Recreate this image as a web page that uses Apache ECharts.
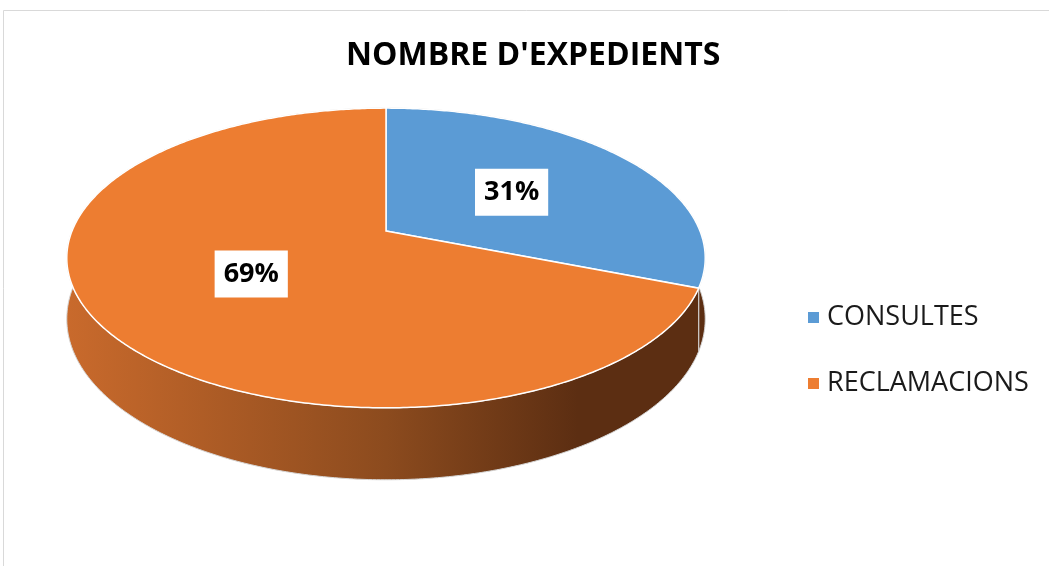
<!DOCTYPE html>
<html>
<head>
<meta charset="utf-8">
<script src="https://cdn.jsdelivr.net/npm/echarts@6/dist/echarts.min.js"></script>
<style>
    html, body { margin: 0; padding: 0; background: #fff; }
    #chart { width: 1049px; height: 566px; }
</style>
</head>
<body>
<div id="chart"></div>
<script>
var categories = ['CONSULTES', 'RECLAMACIONS'];
var values = [31, 69];
var colors = ['#5B9BD5', '#ED7D31'];

// 3d pie look: disc projected with a bit of perspective
var pie = { cx: 386, cy: 231, a: 314, b: 145, p: 0.18, h: 59 };
var sideColors = [
    ['#5c2e12', '#5c2e12', '#5c2e12'],
    ['#c96a2c', '#8c4b1e', '#5c2e12']
];

function total() {
    var t = 0;
    for (var i = 0; i < values.length; i++) t += values[i];
    return t;
}

function proj(ang, r, down) {
    var x = r * Math.sin(ang);
    var z = r * Math.cos(ang);
    var w = 1 / (1 + pie.p * z);
    return [pie.cx + pie.a * x * w, pie.cy - pie.b * z * w + down * w];
}

function arc(a0, a1, r, down) {
    var pts = [];
    var n = Math.max(2, Math.ceil((a1 - a0) / 0.01));
    for (var k = 0; k <= n; k++) {
        pts.push(proj(a0 + (a1 - a0) * k / n, r, down));
    }
    return pts;
}

function renderSlice(params, api) {
    var i = params.seriesIndex;
    var t = total();
    var before = 0;
    for (var j = 0; j < i; j++) before += values[j];
    var v = api.value(0);
    var a0 = before / t * Math.PI * 2;
    var a1 = (before + v) / t * Math.PI * 2;

    var topPts = [[pie.cx, pie.cy]].concat(arc(a0, a1, 1, 0));
    var sidePts = arc(a0, a1, 1, 0).concat(arc(a0, a1, 1, pie.h).reverse());

    var sc = sideColors[i];
    var mid = (a0 + a1) / 2;
    var lp = proj(mid, 0.5, 0);

    return {
        type: 'group',
        children: [{
            type: 'polygon',
            z2: 1,
            shape: { points: sidePts },
            style: {
                fill: new echarts.graphic.LinearGradient(pie.cx - 320, 0, pie.cx + 320, 0, [
                    { offset: 0, color: sc[0] },
                    { offset: 0.5, color: sc[1] },
                    { offset: 0.8, color: sc[2] },
                    { offset: 1, color: sc[2] }
                ], true),
                stroke: '#d6d6d6',
                lineWidth: 1
            }
        }, {
            type: 'polygon',
            z2: 10,
            shape: { points: topPts },
            style: { fill: colors[i], stroke: '#ffffff', lineWidth: 1.5 }
        }, {
            type: 'text',
            z2: 20,
            x: lp[0] + 2,
            y: lp[1],
            style: {
                text: Math.round(v / t * 100) + '%',
                align: 'center',
                verticalAlign: 'middle',
                fontFamily: 'Open Sans',
                fontWeight: 'bold',
                fontSize: 27,
                fill: '#000',
                backgroundColor: '#fff',
                padding: [10, 9, 10, 9]
            }
        }]
    };
}

function buildSeries() {
    var list = [];
    for (var i = 0; i < categories.length; i++) {
        list.push({
            type: 'custom',
            name: categories[i],
            coordinateSystem: 'none',
            itemStyle: { color: colors[i] },
            renderItem: renderSlice,
            data: [[values[i]]]
        });
    }
    return list;
}

var chart = echarts.init(document.getElementById('chart'));
chart.setOption({
    animation: false,
    backgroundColor: '#fff',
    title: {
        text: "NOMBRE D'EXPEDIENTS",
        left: 341,
        top: 35,
        textStyle: { fontFamily: 'Open Sans', fontWeight: 'bold', fontSize: 32, color: '#000' }
    },
    legend: {
        orient: 'vertical',
        left: 803,
        top: 299,
        itemGap: 39,
        itemWidth: 11,
        itemHeight: 11,
        icon: 'rect',
        data: categories,
        textStyle: { fontFamily: 'Open Sans', fontSize: 27, color: '#1a1a1a', padding: [0, 0, 0, 3] }
    },
    graphic: [{
        type: 'rect',
        silent: true,
        shape: { x: 3.5, y: 10.5, width: 1100, height: 600 },
        style: { fill: 'none', stroke: '#d9d9d9', lineWidth: 1 }
    }],
    series: buildSeries()
});
</script>
</body>
</html>
